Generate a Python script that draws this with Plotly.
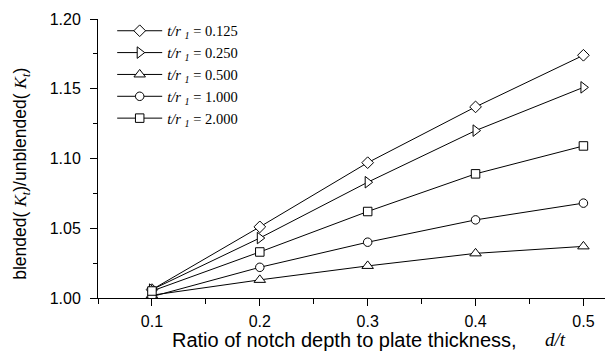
import plotly.graph_objects as go

x_vals = [0.1, 0.2, 0.3, 0.4, 0.5]
series_names = ["0.125", "0.250", "0.500", "1.000", "2.000"]
kt_0125 = [1.006, 1.051, 1.097, 1.137, 1.174]
kt_0250 = [1.006, 1.043, 1.083, 1.120, 1.151]
kt_0500 = [1.002, 1.013, 1.023, 1.032, 1.037]
kt_1000 = [1.001, 1.022, 1.040, 1.056, 1.068]
kt_2000 = [1.005, 1.033, 1.062, 1.089, 1.109]

series = [kt_0125, kt_0250, kt_0500, kt_1000, kt_2000]
symbols = ["diamond", "triangle-right", "triangle-up", "circle", "square"]
sizes = [9, 10, 10, 8.5, 8.5]

SANS = "Liberation Sans, Arial, sans-serif"
SERIF = "Liberation Serif, Times New Roman, serif"
KT = "<span style=\"font-family:'Liberation Serif'\"><i>K<sub>t</sub></i></span>"

fig = go.Figure()
for name, ys, sym, sz in zip(series_names, series, symbols, sizes):
    fig.add_trace(go.Scatter(
        x=x_vals, y=ys, mode="lines+markers",
        name=f"<i>t/r</i> <i><sub>1</sub></i> = {name}",
        line=dict(color="black", width=1),
        marker=dict(symbol=sym, size=sz, color="white",
                    line=dict(color="black", width=1)),
    ))

fig.update_layout(
    width=605, height=359,
    margin=dict(l=98, r=0, t=19, b=61),
    paper_bgcolor="white", plot_bgcolor="white",
    font=dict(family=SANS, size=16, color="black"),
    showlegend=True,
    legend=dict(x=0.028, y=1.015, xanchor="left", yanchor="top",
                font=dict(family=SERIF, size=14.5, color="black"),
                bgcolor="rgba(0,0,0,0)", tracegroupgap=0, itemwidth=45),
    xaxis=dict(range=[0.05, 0.52], tick0=0.1, dtick=0.1, tickformat=".1f",
               automargin=False,
               showline=True, linecolor="black", linewidth=1,
               ticks="outside", ticklen=7, tickcolor="black",
               ticklabelstandoff=2,
               showgrid=False, zeroline=False,
               minor=dict(tick0=0.05, dtick=0.05, ticks="outside", ticklen=5, tickcolor="black")),
    yaxis=dict(range=[1.0, 1.2], tick0=1.0, dtick=0.05, tickformat=".2f",
               automargin=False,
               showline=True, linecolor="black", linewidth=1,
               ticks="outside", ticklen=7, tickcolor="black",
               ticklabelstandoff=6,
               showgrid=False, zeroline=False,
               minor=dict(tick0=1.0, dtick=0.025, ticks="outside", ticklen=4, tickcolor="black")),
    annotations=[
        dict(xref="paper", yref="paper", x=0.142, y=0, yshift=-42, xanchor="left", yanchor="middle",
             text="Ratio of notch depth to plate thickness,", showarrow=False,
             font=dict(family=SANS, size=20, color="black")),
        dict(xref="paper", yref="paper", x=0.878, y=0, yshift=-41, xanchor="left", yanchor="middle",
             text="<i>d/t</i>", showarrow=False,
             font=dict(family=SERIF, size=19, color="black")),
        dict(xref="paper", yref="paper", x=0, xshift=-76, y=0.445, xanchor="center", yanchor="middle",
             textangle=-90,
             text=f"blended( {KT})/unblended( {KT})",
             showarrow=False, font=dict(family=SANS, size=17.5, color="black")),
    ],
)

fig.write_html("out.html", config={"displayModeBar": False},
               post_script="document.body.style.margin='0';document.body.style.overflow='hidden';")
